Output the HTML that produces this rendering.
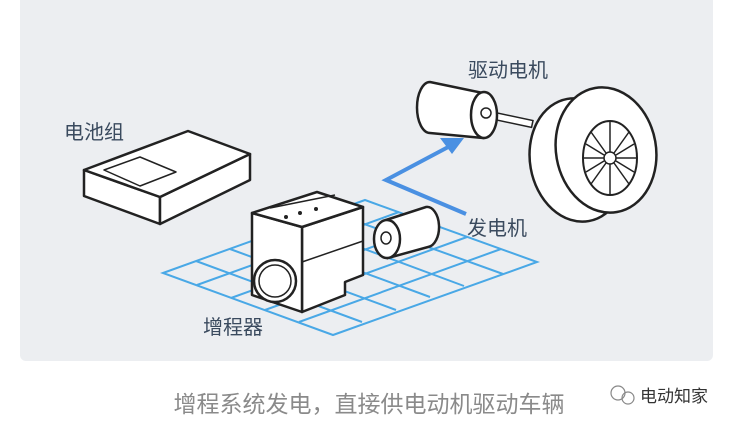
<!DOCTYPE html>
<html><head><meta charset="utf-8"><style>
html,body{margin:0;padding:0;background:#fff;width:733px;height:427px;overflow:hidden}
svg{display:block}
text{font-family:"Liberation Sans","Noto Sans CJK SC",sans-serif}
</style></head><body>
<svg width="733" height="427" viewBox="0 0 733 427" xmlns="http://www.w3.org/2000/svg">
<rect x="20" y="-6" width="693" height="367" rx="6" fill="#eceef1"/>
<!-- grid -->
<g stroke="#49a8e6" stroke-width="2" fill="none">
<polygon points="163,273 365,200 537,262 333,335"/>
<line x1="197" y1="285" x2="399" y2="212"/>
<line x1="231" y1="298" x2="433" y2="225"/>
<line x1="265" y1="310" x2="467" y2="237"/>
<line x1="299" y1="322" x2="501" y2="249"/>
<line x1="196" y1="261" x2="362" y2="322"/>
<line x1="230" y1="249" x2="396" y2="310"/>
<line x1="264" y1="236" x2="430" y2="297"/>
<line x1="297" y1="224" x2="464" y2="286"/>
<line x1="331" y1="212" x2="503" y2="274"/>
</g>
<!-- blue arrow -->
<polyline points="466,214 386,180 452,145" fill="none" stroke="#4a90e2" stroke-width="4"/>
<polygon points="440,138 464,138 452,154" fill="#4a90e2"/>
<!-- battery -->
<g stroke="#222" stroke-width="2.5" fill="#fff" stroke-linejoin="round">
<polygon points="84,170 84,196 160,224 160,197"/>
<polygon points="160,197 250,154 250,180 160,224"/>
<polygon points="84,170 188,131 250,154 160,197"/>
<polygon points="104,170 140,157 176,172 140,186" fill="#fff" stroke-width="1.5"/>
</g>
<!-- range extender -->
<g stroke="#222" stroke-width="2.5" fill="#fff" stroke-linejoin="round">
<polygon points="302,227 363,207 363,275 345,282 345,295 302,312"/>
<polygon points="252,213 302,227 302,312 252,295"/>
<polygon points="252,213 317,192 363,207 302,227"/>
<line x1="302" y1="262" x2="363" y2="241" stroke-width="1.5"/>
<line x1="270" y1="208" x2="335" y2="195" stroke-width="1.5"/>
<circle cx="275" cy="281" r="21"/>
<circle cx="275" cy="281" r="16" stroke-width="1.5"/>
</g>
<g fill="#222"><circle cx="286" cy="217" r="2"/><circle cx="300" cy="213" r="2"/><circle cx="316" cy="209" r="2"/></g>
<!-- generator -->
<g stroke="#222" stroke-width="2.5" fill="#fff">
<path d="M386,220 L426,207 A12,20 0 0 1 428,247 L388,258 Z"/>
<ellipse cx="387" cy="239" rx="13" ry="19"/>
<ellipse cx="386" cy="238" rx="5" ry="6" stroke-width="1.5"/>
</g>
<!-- drive motor -->
<g stroke="#222" stroke-width="2.5" fill="#fff">
<rect x="488" y="111" width="46" height="7" stroke-width="1.5" transform="rotate(12 488 111)"/>
<path d="M430,82 L483,93 L483,138 L430,133 A13,25.5 0 0 1 430,82 Z"/>
<ellipse cx="484" cy="115" rx="13" ry="23"/>
<ellipse cx="486" cy="113" rx="5" ry="5" stroke-width="1.5"/>
</g>
<!-- wheel -->
<g stroke="#222" stroke-width="2.5" fill="#fff">
<ellipse cx="578" cy="160" rx="48" ry="62" transform="rotate(-10 578 160)"/>
<ellipse cx="606" cy="150" rx="50" ry="63" transform="rotate(-10 606 150)"/>
<ellipse cx="610" cy="158" rx="27" ry="37" stroke-width="2"/>
<circle cx="610" cy="158" r="6" stroke-width="1.5"/>
</g>
<g stroke="#222" stroke-width="1.5">
<line x1="610" y1="122" x2="610" y2="152"/><line x1="610" y1="164" x2="610" y2="194"/>
<line x1="584" y1="158" x2="604" y2="158"/><line x1="616" y1="158" x2="636" y2="158"/>
<line x1="591" y1="132" x2="606" y2="153"/><line x1="614" y1="163" x2="629" y2="184"/>
<line x1="629" y1="132" x2="614" y2="153"/><line x1="606" y1="163" x2="591" y2="184"/>
<line x1="586" y1="144" x2="604" y2="155"/><line x1="616" y1="161" x2="634" y2="172"/>
<line x1="634" y1="144" x2="616" y2="155"/><line x1="604" y1="161" x2="586" y2="172"/>
</g>
<!-- labels -->
<g fill="#3a4a5e" font-size="20">
<text x="64" y="139">电池组</text>
<text x="468" y="77">驱动电机</text>
<text x="467" y="235">发电机</text>
<text x="203" y="334">增程器</text>
</g>
<text x="369" y="412" font-size="23" fill="#8a8a8a" text-anchor="middle">增程系统发电，直接供电动机驱动车辆</text>
<circle cx="618" cy="393" r="7" fill="none" stroke="#888" stroke-width="1.2"/>
<circle cx="628" cy="398" r="6" fill="none" stroke="#888" stroke-width="1.2"/>
<text x="640" y="402" font-size="17" fill="#333">电动知家</text>
</svg>
</body></html>
